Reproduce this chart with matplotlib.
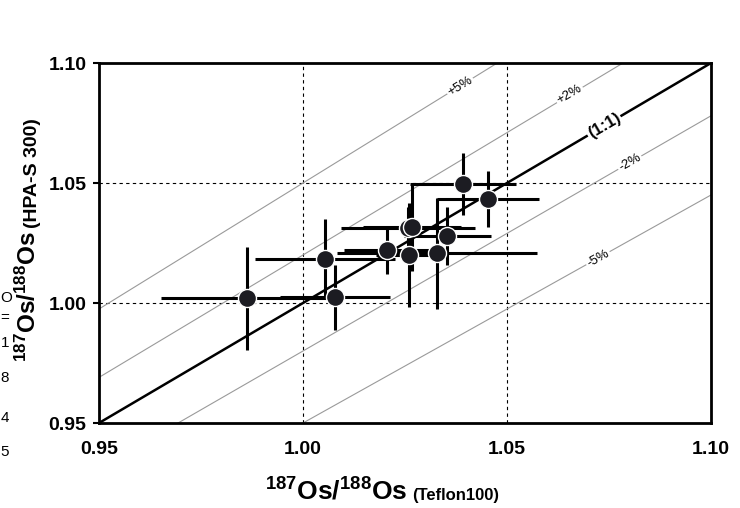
import numpy as np
import matplotlib
matplotlib.use("Agg")
import matplotlib.pyplot as plt

plt.rcParams['font.family'] = ['Liberation Sans', 'DejaVu Sans']
plt.rcParams['mathtext.default'] = 'regular'

# 187Os/188Os measured with Teflon100 (x) and HPA-S 300 (y)
teflon = [0.9863, 1.0054, 1.0205, 1.0257, 1.0267, 1.0078, 1.0260, 1.0329, 1.0354, 1.0454, 1.0393]
hpas = [1.0020, 1.0183, 1.0221, 1.0311, 1.0315, 1.0024, 1.0200, 1.0207, 1.0280, 1.0432, 1.0496]
teflonErr = [0.0210, 0.0172, 0.0105, 0.0165, 0.0120, 0.0135, 0.0080, 0.0245, 0.0106, 0.0125, 0.0130]
hpasErr = [0.0215, 0.0167, 0.0100, 0.0090, 0.0180, 0.0135, 0.0215, 0.0230, 0.0120, 0.0117, 0.0130]

# deviation lines from 1:1 and where their labels sit (x position)
devs = [0.05, 0.02, -0.02, -0.05]
devLabels = ['+5%', '+2%', '-2%', '-5%']
devLabelX = [1.0385, 1.0654, 1.0801, 1.0723]
oneLabelX = 1.0738

lims = [0.95, 1.10]
ticks = [0.95, 1.00, 1.05, 1.10]

fig = plt.figure(figsize=(7.4, 5.08), dpi=100)
ax = fig.add_axes([99 / 740, 85 / 508, 612 / 740, 360 / 508])
ax.set_xlim(lims)
ax.set_ylim(lims)

# dashed grid at 1.00 and 1.05
for g in [1.00, 1.05]:
    ax.axvline(g, color='black', lw=0.8, dashes=(3, 3), zorder=1)
    ax.axhline(g, color='black', lw=0.8, dashes=(3, 3), zorder=1)

xs = np.array(lims)
# pixel slope of the 1:1 line, for rotating labels
pxPerX = 612 / 0.15
pxPerY = 360 / 0.15

for d, lab, lx in zip(devs, devLabels, devLabelX):
    ax.plot(xs, xs * (1 + d), color='#9a9a9a', lw=0.8, zorder=1)
    ang = np.degrees(np.arctan(pxPerY * (1 + d) / pxPerX))
    ax.text(lx, lx * (1 + d), lab, rotation=ang, fontsize=9.5, ha='center', va='center',
            rotation_mode='anchor', zorder=2,
            bbox=dict(facecolor='white', edgecolor='none', pad=1.0))

ax.plot(xs, xs, color='black', lw=1.8, zorder=2)
ang1 = np.degrees(np.arctan(pxPerY / pxPerX))
ax.text(oneLabelX, oneLabelX, '(1:1)', rotation=ang1, fontsize=12, fontweight='bold',
        ha='center', va='center', rotation_mode='anchor', zorder=3,
        bbox=dict(facecolor='white', edgecolor='none', pad=1.0))

# error bars first, then the points on top
ax.errorbar(teflon, hpas, xerr=teflonErr, yerr=hpasErr, fmt='none', ecolor='black',
            elinewidth=2.2, capsize=0, zorder=4)
ax.plot(teflon, hpas, 'o', ms=13, mfc='#1c1c22', mec='white', mew=1.0, zorder=5)

ax.set_xticks(ticks)
ax.set_yticks(ticks)
ax.set_xticklabels(['%.2f' % t for t in ticks], fontsize=14, fontweight='bold')
ax.set_yticklabels(['%.2f' % t for t in ticks], fontsize=14, fontweight='bold')
ax.tick_params(axis='x', length=0, pad=13)
ax.tick_params(axis='y', direction='out', length=4, width=1.5, pad=5)
for s in ax.spines.values():
    s.set_linewidth(2.0)

# axis labels built from two pieces (big isotope ratio + small method name)
fig.text(407 / 740, 8 / 508, r'$^{187}$Os/$^{188}$Os', fontsize=19, fontweight='bold',
         ha='right', va='baseline')
fig.text(412 / 740, 8 / 508, '(Teflon100)', fontsize=12, fontweight='bold',
         ha='left', va='baseline')
fig.text(36 / 740, (508 - 231) / 508, r'$^{187}$Os/$^{188}$Os', fontsize=17.5, fontweight='bold',
         ha='right', va='baseline', rotation=90, rotation_mode='anchor')
fig.text(37 / 740, (508 - 228) / 508, '(HPA-S 300)', fontsize=14, fontweight='bold',
         ha='left', va='baseline', rotation=90, rotation_mode='anchor')

# remnants of a neighbouring label at the left edge
for ch, yy in zip(['O', '=', '1', '8', '4', '5'], [298, 318, 343, 378, 418, 452]):
    fig.text(0.5 / 740, (508 - yy) / 508, ch, fontsize=11, ha='left', va='center')

fig.savefig('out.png', dpi=100)
